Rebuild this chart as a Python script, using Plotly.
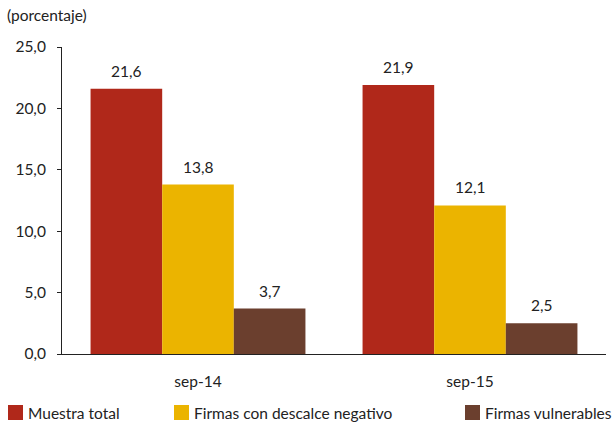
import plotly.graph_objects as go

# Datos
categorias = ["sep-14", "sep-15"]
series = ["Muestra total", "Firmas con descalce negativo", "Firmas vulnerables"]
muestra_total = [21.6, 21.9]
descalce_negativo = [13.8, 12.1]
vulnerables = [3.7, 2.5]
valores = [muestra_total, descalce_negativo, vulnerables]
colores = ["#B0281A", "#EBB400", "#6B3F2E"]
ticks_y = [0, 5, 10, 15, 20, 25]

FONT = "Lato"
FS = 15.5
TXT = "#222"
W, H = 612, 424
ML, MR, MT, MB = 62, 6, 47, 70
PW, PH = W - ML - MR, H - MT - MB
BARGAP = 0.21

fig = go.Figure()
for nombre, vals, col in zip(series, valores, colores):
    fig.add_trace(go.Bar(
        x=categorias, y=vals, name=nombre, marker=dict(color=col, line=dict(width=0)),
        showlegend=False,
    ))

def px_x(p):
    return (p - ML) / PW

def px_y(p):
    return (H - MB - p) / PH

shapes, annotations = [], []

# Etiquetas de valor sobre cada barra
ancho_barra = (1 - BARGAP) / len(series)
for k, vals in enumerate(valores):
    desplaz = (k - (len(series) - 1) / 2) * ancho_barra
    for i, v in enumerate(vals):
        annotations.append(dict(
            x=i + desplaz, y=v, xref="x", yref="y", text=f"{v:.1f}".replace(".", ","),
            showarrow=False, yanchor="bottom", yshift=7,
            font=dict(family=FONT, size=FS, color=TXT)))

# Leyenda manual en la parte inferior
leg_x = [8, 174, 465]
for nombre, col, x0 in zip(series, colores, leg_x):
    shapes.append(dict(type="rect", xref="paper", yref="paper",
                       x0=px_x(x0), x1=px_x(x0 + 15), y0=px_y(420), y1=px_y(405),
                       fillcolor=col, line=dict(width=0)))
    annotations.append(dict(text=nombre, xref="paper", yref="paper",
                            x=px_x(x0 + 18), y=px_y(412.5), xanchor="left", yanchor="middle",
                            showarrow=False, font=dict(family=FONT, size=FS, color=TXT)))

annotations.append(dict(text="(porcentaje)", xref="paper", yref="paper",
                        x=px_x(5), y=px_y(15), xanchor="left", yanchor="middle",
                        showarrow=False, font=dict(family=FONT, size=FS, color=TXT)))

fig.update_layout(
    width=W, height=H, margin=dict(l=ML, r=MR, t=MT, b=MB),
    paper_bgcolor="white", plot_bgcolor="white",
    barmode="group", bargap=BARGAP, bargroupgap=0,
    separators=",.",
    font=dict(family=FONT, size=FS, color=TXT),
    shapes=shapes, annotations=annotations,
    xaxis=dict(showline=True, linecolor=TXT, linewidth=1, ticks="",
               tickfont=dict(family=FONT, size=FS, color=TXT), ticklabelstandoff=13),
    yaxis=dict(range=[0, 25], tickvals=ticks_y, tickformat=".1f", showgrid=False,
               showline=True, linecolor=TXT, linewidth=1, ticks="outside", ticklen=4,
               tickcolor=TXT, zeroline=False, ticklabelstandoff=8,
               tickfont=dict(family=FONT, size=FS, color=TXT)),
)

fig.write_html("out.html")
